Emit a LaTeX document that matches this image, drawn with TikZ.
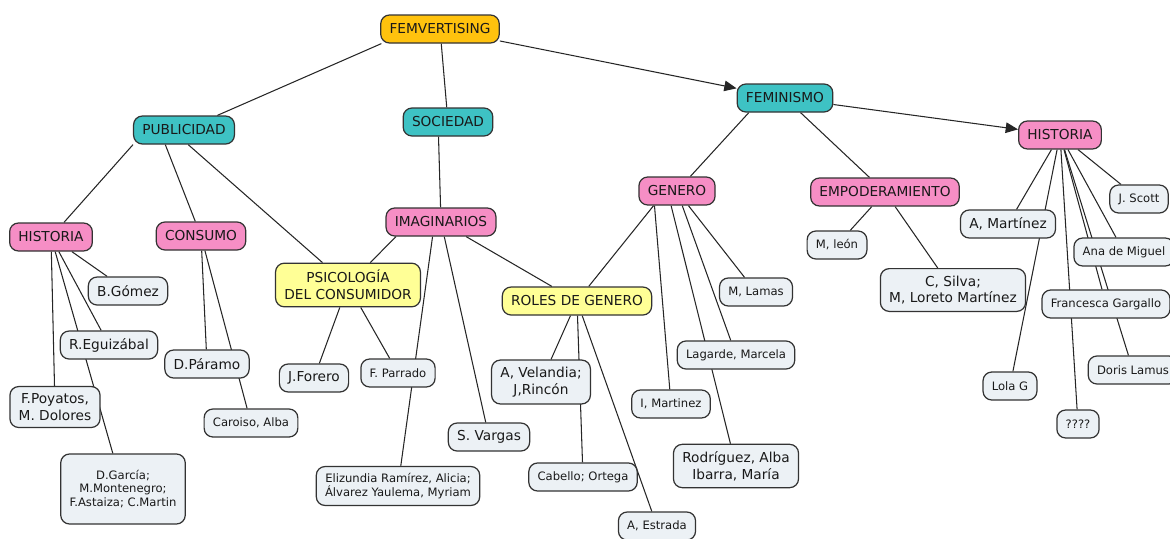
\documentclass[tikz,border=0pt]{standalone}
\usepackage{fontspec}
\setmainfont{DejaVu Sans}
\usetikzlibrary{arrows.meta,backgrounds}
\definecolor{femgold}{RGB}{255,194,14}
\definecolor{topicteal}{RGB}{62,194,196}
\definecolor{subpink}{RGB}{246,142,197}
\definecolor{lemon}{RGB}{255,255,150}
\definecolor{authgrey}{RGB}{236,241,245}

\begin{document}
\begin{tikzpicture}[
  box/.style={draw=black!80, line width=0.7pt, rounded corners=5pt,
              inner xsep=5pt, inner ysep=4pt, minimum height=0.56cm,
              align=center, text=black!90, font=\fontsize{7.8}{9.5}\selectfont},
  root/.style={box, fill=femgold},
  topic/.style={box, fill=topicteal},
  sub/.style={box, fill=subpink},
  mid/.style={box, fill=lemon},
  auth/.style={box, fill=authgrey},
  small/.style={auth, font=\fontsize{6.6}{7.5}\selectfont},
  link/.style={line width=0.6pt, draw=black!85},
  arr/.style={link, -{Triangle[length=7pt,width=6pt]}}
]
  \useasboundingbox (0,0) rectangle (23.4,-10.76);

  \node[root]  (fem)   at (8.80,-0.58)  {FEMVERTISING};
  \node[topic] (pub)   at (3.68,-2.60)  {PUBLICIDAD};
  \node[topic] (soc)   at (8.96,-2.44)  {SOCIEDAD};
  \node[topic] (femi)  at (15.70,-1.96) {FEMINISMO};

  \node[sub] (histL) at (1.02,-4.74)  {HISTORIA};
  \node[sub] (cons)  at (4.02,-4.72)  {CONSUMO};
  \node[sub] (imag)  at (8.82,-4.44)  {IMAGINARIOS};
  \node[sub] (gen)   at (13.54,-3.82) {GENERO};
  \node[sub] (empo)  at (17.70,-3.84) {EMPODERAMIENTO};
  \node[sub] (histR) at (21.20,-2.70) {HISTORIA};

  \node[mid] (psico) at (6.96,-5.70)  {PSICOLOGÍA\\DEL CONSUMIDOR};
  \node[mid] (roles) at (11.54,-6.02) {ROLES DE GENERO};

  \node[auth]  (gomez)   at (2.56,-5.82)  {B.Gómez};
  \node[auth]  (egui)    at (2.18,-6.90)  {R.Eguizábal};
  \node[auth]  (poya)    at (1.10,-8.14)  {F.Poyatos,\\M. Dolores};
  \node[small, minimum width=2.48cm, minimum height=1.4cm]
               (garcia)  at (2.46,-9.78)  {D.García;\\M.Montenegro;\\F.Astaiza; C.Martin};
  \node[auth]  (paramo)  at (4.14,-7.28)  {D.Páramo};
  \node[small] (caroiso) at (5.02,-8.46)  {Caroiso, Alba};
  \node[auth]  (forero)  at (6.28,-7.56)  {J.Forero};
  \node[small] (parrado) at (7.96,-7.46)  {F. Parrado};
  \node[small] (eliz)    at (7.96,-9.72)  {Elizundia Ramírez, Alicia;\\Álvarez Yaulema, Myriam};
  \node[auth]  (vargas)  at (9.78,-8.74)  {S. Vargas};
  \node[auth]  (velan)   at (10.82,-7.64) {A, Velandia;\\J,Rincón};
  \node[small] (cabello) at (11.66,-9.54) {Cabello; Ortega};
  \node[small] (estrada) at (13.14,-10.52) {A, Estrada};
  \node[small] (imart)   at (13.42,-8.08) {I, Martinez};
  \node[small] (lamas)   at (15.12,-5.84) {M, Lamas};
  \node[small] (lagarde) at (14.72,-7.10) {Lagarde, Marcela};
  \node[auth]  (rodri)   at (14.72,-9.32) {Rodríguez, Alba\\Ibarra, María};
  \node[small] (leon)    at (16.74,-4.90) {M, león};
  \node[auth]  (silva)   at (19.06,-5.80) {C, Silva;\\M, Loreto Martínez};
  \node[auth]  (amart)   at (20.16,-4.48) {A, Martínez};
  \node[small] (scott)   at (22.78,-3.98) {J. Scott};
  \node[small] (ana)     at (22.48,-5.04) {Ana de Miguel};
  \node[small] (franc)   at (22.12,-6.08) {Francesca Gargallo};
  \node[small] (doris)   at (22.66,-7.40) {Doris Lamus};
  \node[small] (lola)    at (20.20,-7.72) {Lola G};
  \node[small] (qqq)     at (21.56,-8.48) {????};

  \begin{pgfonlayer}{background}
    \draw[link] (fem.194) -- (pub);
    \draw[link] (fem) -- (soc);
    \draw[arr]  (fem) -- (femi);
    \draw[arr]  (femi) -- (histR);

    \draw[link] (pub.196) -- (histL);
    \draw[link] (pub.218) -- (cons);
    \draw[link] (pub.286) -- (psico);
    \draw[link] (soc.237) -- (imag);
    \draw[link] (femi.202) -- (gen);
    \draw[link] (femi) -- (empo);

    \draw[link] (histL) -- (poya);
    \draw[link] (histL) -- (garcia);
    \draw[link] (histL) -- (egui);
    \draw[link] (histL) -- (gomez);
    \draw[link] (cons) -- (paramo);
    \draw[link] (cons) -- (caroiso);
    \draw[link] (psico) -- (forero);
    \draw[link] (psico) -- (parrado);

    \draw[link] (imag.198) -- (psico);
    \draw[link] (imag.240) -- (eliz);
    \draw[link] (imag) -- (vargas);
    \draw[link] (imag) -- (roles);

    \draw[link] (roles) -- (velan);
    \draw[link] (roles) -- (cabello);
    \draw[link] (roles) -- (estrada);

    \draw[link] (gen.212) -- (roles);
    \draw[link] (gen.213) -- (imart);
    \draw[link] (gen.248) -- (rodri);
    \draw[link] (gen) -- (lagarde);
    \draw[link] (gen) -- (lamas);

    \draw[link] (empo) -- (leon);
    \draw[link] (empo) -- (silva);

    \draw[link] (histR) -- (amart);
    \draw[link] (histR) -- (lola);
    \draw[link] (histR) -- (qqq);
    \draw[link] (histR) -- (franc);
    \draw[link] (histR) -- (doris);
    \draw[link] (histR) -- (ana);
    \draw[link] (histR) -- (scott);
  \end{pgfonlayer}
\end{tikzpicture}
\end{document}
